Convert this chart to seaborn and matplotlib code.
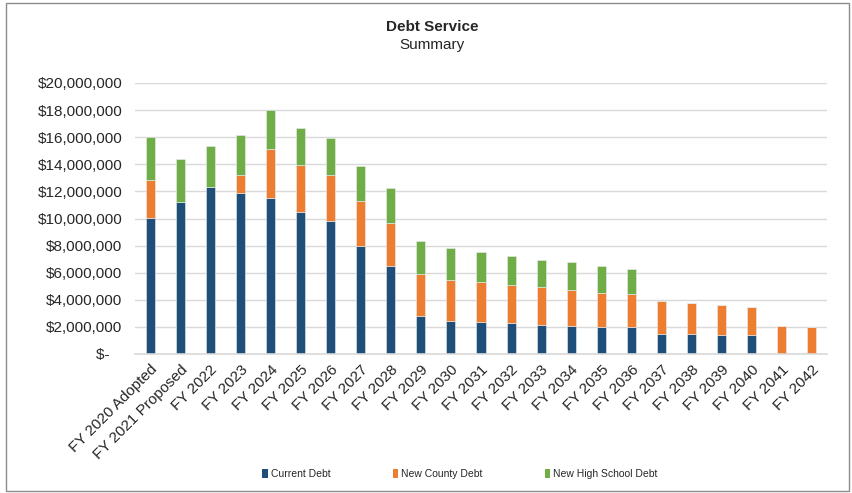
import matplotlib
matplotlib.use("Agg")
import matplotlib.pyplot as plt
import seaborn as sns
import pandas as pd
from matplotlib.patches import Rectangle, Patch
from matplotlib.ticker import FixedLocator

categories = ["FY 2020 Adopted", "FY 2021 Proposed", "FY 2022", "FY 2023", "FY 2024",
              "FY 2025", "FY 2026", "FY 2027", "FY 2028", "FY 2029", "FY 2030", "FY 2031",
              "FY 2032", "FY 2033", "FY 2034", "FY 2035", "FY 2036", "FY 2037", "FY 2038",
              "FY 2039", "FY 2040", "FY 2041", "FY 2042"]
current_debt = [10.01, 11.19, 12.29, 11.88, 11.51, 10.48, 9.82, 8.00, 6.50, 2.82, 2.43, 2.36,
                2.28, 2.13, 2.06, 2.01, 1.96, 1.50, 1.50, 1.42, 1.37, 0, 0]
county_debt = [2.80, 0, 0, 1.35, 3.63, 3.46, 3.41, 3.31, 3.19, 3.12, 3.04, 2.92,
               2.82, 2.82, 2.69, 2.52, 2.45, 2.40, 2.27, 2.23, 2.13, 2.03, 1.99]
hs_debt = [3.24, 3.17, 3.05, 2.94, 2.85, 2.77, 2.70, 2.60, 2.53, 2.40, 2.33, 2.23,
           2.11, 2.01, 2.01, 1.97, 1.89, 0, 0, 0, 0, 0, 0]
series_names = ["Current Debt", "New County Debt", "New High School Debt"]
colors = ["#1F4E79", "#ED7D31", "#70AD47"]
ytick_values = [0, 2, 4, 6, 8, 10, 12, 14, 16, 18, 20]

df = pd.DataFrame({
    "cat": categories,
    "cur": [v * 1e6 for v in current_debt],
    "cty": [v * 1e6 for v in county_debt],
    "hs": [v * 1e6 for v in hs_debt],
})
df["b2"] = df["cur"] + df["cty"]

sns.set_style("white")
plt.rcParams["font.family"] = ["Liberation Sans", "DejaVu Sans"]

fig = plt.figure(figsize=(8.53, 4.93), dpi=100)
ax = fig.add_axes([135/853, 1 - 354/493, (827-135)/853, (354-83)/493])

kw = dict(width=0.3, edgecolor="#e8eef4", linewidth=0.4, ax=ax, order=categories, saturation=1)
sns.barplot(data=df, x="cat", y="cur", color=colors[0], **kw)
sns.barplot(data=df, x="cat", y="cty", bottom=df["cur"].values, color=colors[1], **kw)
sns.barplot(data=df, x="cat", y="hs", bottom=df["b2"].values, color=colors[2], **kw)

ax.set_xlim(-0.5, len(categories) - 0.5)
ax.set_ylim(0, 20e6)
ax.yaxis.set_major_locator(FixedLocator([v * 1e6 for v in ytick_values]))
ylabels = ["$-   " if v == 0 else "${:,.0f}".format(v * 1e6) for v in ytick_values]
ax.set_yticklabels(ylabels, fontsize=11)
ax.set_xticks(range(len(categories)))
ax.set_xticklabels(categories, rotation=45, ha="right", rotation_mode="anchor", fontsize=11)
ax.tick_params(axis="y", length=0, pad=9)
ax.tick_params(axis="x", length=0, pad=6)
ax.grid(axis="y", color="#d9d9d9", linewidth=1)
ax.set_axisbelow(True)
for s in ["top", "right", "left"]:
    ax.spines[s].set_visible(False)
ax.spines["bottom"].set_color("#d9d9d9")
ax.spines["bottom"].set_linewidth(1.2)
ax.set_xlabel("")
ax.set_ylabel("")

fig.text(432/853, 1 - 27/493, "Debt Service", ha="center", va="center", fontsize=11, fontweight="bold")
fig.text(432/853, 1 - 45/493, "Summary", ha="center", va="center", fontsize=11)

handles = [Patch(facecolor=c, edgecolor="none") for c in colors]
fig.legend(handles, series_names, loc="center", bbox_to_anchor=(460/853, 1 - 474/493),
           ncol=3, frameon=False, fontsize=7.5, handlelength=0.5, handleheight=0.9,
           handletextpad=0.3, columnspacing=6)

fig.patches.append(Rectangle((6/853, 2/493), (849-6)/853, (490-2)/493, transform=fig.transFigure,
                             fill=False, edgecolor="#8c8c8c", linewidth=1))

fig.savefig("out.png", dpi=100)
